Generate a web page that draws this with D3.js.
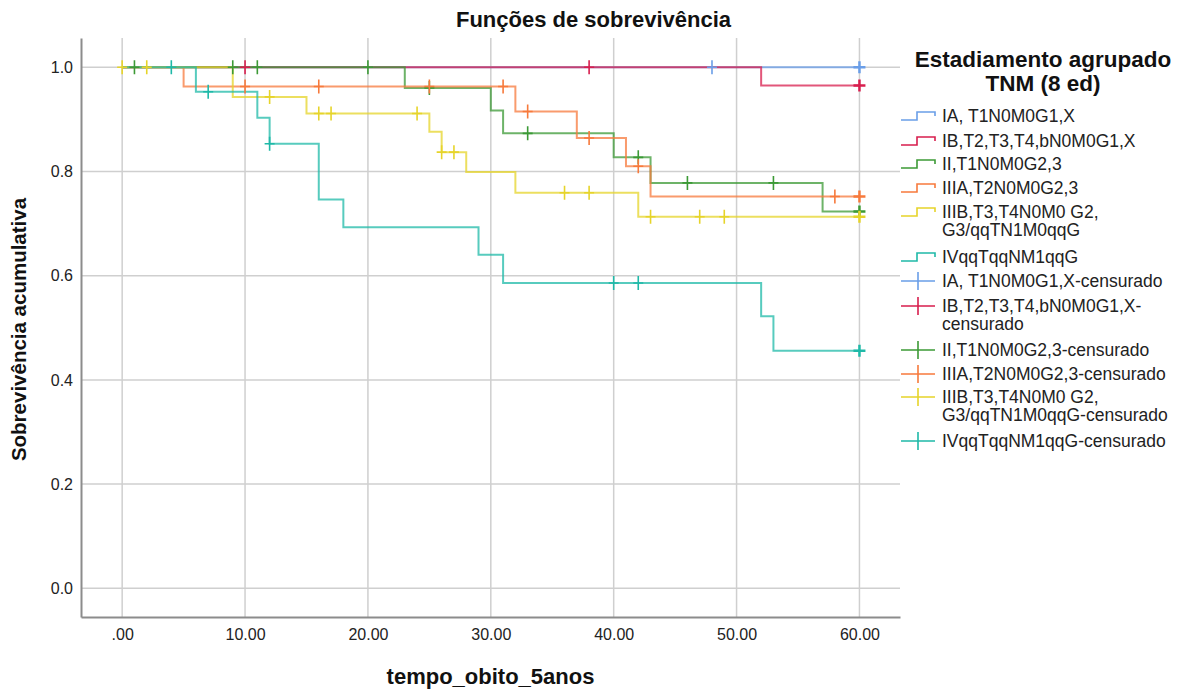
<!DOCTYPE html>
<html lang="pt">
<head>
<meta charset="UTF-8">
<title>Funções de sobrevivência</title>
<script src="https://cdn.jsdelivr.net/npm/d3@7"></script>
<style>
    body { margin: 0; background: #fff; font-family: "Liberation Sans", Arial, sans-serif; }
</style>
</head>
<body>
<script>
    // groups (legend order)
    const groupNames = ["IA, T1N0M0G1,X", "IB,T2,T3,T4,bN0M0G1,X", "II,T1N0M0G2,3",
        "IIIA,T2N0M0G2,3", "IIIB,T3,T4N0M0 G2,\nG3/qqTN1M0qqG", "IVqqTqqNM1qqG"]
    const groupColours = ["#6a9ee8", "#d81e4e", "#3c9a36", "#f77a3c", "#e6d42a", "#1fb9a8"]

    // event times and survival after each event, censored times
    const iaTimes = [], iaSurv = [], iaCens = [48, 60]
    const ibTimes = [52], ibSurv = [0.965], ibCens = [10, 38, 60]
    const iiTimes = [23, 30, 31, 40, 43, 57]
    const iiSurv = [0.96, 0.917, 0.873, 0.827, 0.778, 0.723]
    const iiCens = [1, 9, 11, 20, 25, 33, 42, 46, 53, 60]
    const iiiaTimes = [5, 32, 37, 41, 43]
    const iiiaSurv = [0.963, 0.915, 0.864, 0.81, 0.752]
    const iiiaCens = [10, 16, 25, 31, 33, 38, 42, 58, 60]
    const iiibTimes = [9, 15, 25, 26, 28, 32, 42]
    const iiibSurv = [0.943, 0.911, 0.876, 0.837, 0.799, 0.759, 0.713]
    const iiibCens = [0, 2, 12, 16, 17, 24, 26, 27, 36, 38, 43, 47, 49, 60]
    const ivTimes = [6, 11, 12, 16, 18, 29, 31, 52, 53]
    const ivSurv = [0.953, 0.903, 0.853, 0.746, 0.693, 0.64, 0.586, 0.522, 0.456]
    const ivCens = [4, 7, 12, 40, 42, 60]

    const xTicks = [0, 10, 20, 30, 40, 50, 60]
    const yTicks = [0, 0.2, 0.4, 0.6, 0.8, 1.0]
    const endTime = 60

    const series = [
        {times: iaTimes, surv: iaSurv, cens: iaCens},
        {times: ibTimes, surv: ibSurv, cens: ibCens},
        {times: iiTimes, surv: iiSurv, cens: iiCens},
        {times: iiiaTimes, surv: iiiaSurv, cens: iiiaCens},
        {times: iiibTimes, surv: iiibSurv, cens: iiibCens},
        {times: ivTimes, surv: ivSurv, cens: ivCens}
    ]

    const width = 1187, height = 691
    const plotL = 81, plotR = 900, plotT = 38, plotB = 617

    const svg = d3.select("body").append("svg").attr("width", width).attr("height", height)

    const x = d3.scaleLinear().domain([-3.35, 63.3]).range([plotL, plotR])
    const y = d3.scaleLinear().domain([-0.055, 1.056]).range([plotB, plotT])

    // grid
    svg.append("g").selectAll("line").data(xTicks).join("line")
        .attr("x1", d => x(d)).attr("x2", d => x(d)).attr("y1", plotT).attr("y2", plotB)
        .attr("stroke", "#cfcfcf").attr("stroke-width", 1.5)
    svg.append("g").selectAll("line").data(yTicks).join("line")
        .attr("x1", plotL).attr("x2", plotR).attr("y1", d => y(d)).attr("y2", d => y(d))
        .attr("stroke", "#cfcfcf").attr("stroke-width", 1.5)

    // axes
    const tickFont = "'Liberation Sans Narrow', 'Liberation Sans', Arial"
    const xAxis = d3.axisBottom(x).tickValues(xTicks).tickSize(0).tickPadding(12)
        .tickFormat(d => d === 0 ? ".00" : d3.format(".2f")(d))
    svg.append("g").attr("transform", `translate(0,${plotB})`).call(xAxis)
        .call(g => g.select(".domain").attr("stroke", "#8c8c8c").attr("stroke-width", 2))
        .call(g => g.selectAll("text").attr("font-size", 16).attr("fill", "#222").attr("font-family", tickFont))
    const yAxis = d3.axisLeft(y).tickValues(yTicks).tickSize(0).tickPadding(8)
        .tickFormat(d3.format(".1f"))
    svg.append("g").attr("transform", `translate(${plotL},0)`).call(yAxis)
        .call(g => g.select(".domain").attr("stroke", "#8c8c8c").attr("stroke-width", 2))
        .call(g => g.selectAll("text").attr("font-size", 16).attr("fill", "#222").attr("font-family", tickFont))

    // step curves
    const line = d3.line().x(d => x(d[0])).y(d => y(d[1])).curve(d3.curveStepAfter)
    function survAt(s, t) {
        let v = 1
        s.times.forEach((tt, i) => { if (tt <= t) v = s.surv[i] })
        return v
    }
    series.forEach((s, i) => {
        const pts = [[0, 1]]
        s.times.forEach((t, j) => pts.push([t, s.surv[j]]))
        pts.push([endTime, survAt(s, endTime)])
        svg.append("path").datum(pts).attr("d", line)
            .attr("fill", "none").attr("stroke", groupColours[i])
            .attr("stroke-width", 2).attr("stroke-opacity", 0.75)
    })
    // censor marks
    series.forEach((s, i) => {
        svg.append("g").selectAll("path").data(s.cens).join("path")
            .attr("d", t => {
                const cx = x(t), cy = y(survAt(s, t))
                const w = t === endTime ? 6 : 5, h = t === endTime ? 6 : 7
                return `M${cx - w},${cy}H${cx + w}M${cx},${cy - h}V${cy + h}`
            })
            .attr("fill", "none").attr("stroke", groupColours[i])
            .attr("stroke-width", t => t === endTime ? 2.5 : 1.6)
    })

    // titles
    svg.append("text").attr("x", width / 2).attr("y", 27).attr("text-anchor", "middle")
        .attr("font-size", 22).attr("font-weight", "bold").attr("fill", "#111").text("Funções de sobrevivência")
    svg.append("text").attr("x", (plotL + plotR) / 2).attr("y", 684).attr("text-anchor", "middle")
        .attr("font-size", 22).attr("font-weight", "bold").attr("fill", "#111").text("tempo_obito_5anos")
    svg.append("text").attr("transform", `translate(26,${(plotT + plotB) / 2 + 2}) rotate(-90)`)
        .attr("text-anchor", "middle").attr("font-size", 20.5).attr("font-weight", "bold")
        .attr("fill", "#111").text("Sobrevivência acumulativa")

    // legend
    const legend = svg.append("g").attr("transform", "translate(900,0)")
    legend.append("text").attr("x", 143).attr("y", 67).attr("text-anchor", "middle")
        .attr("font-size", 22.5).attr("font-weight", "bold").attr("fill", "#111")
        .selectAll("tspan").data(["Estadiamento agrupado", "TNM (8 ed)"]).join("tspan")
        .attr("x", 143).attr("dy", (d, i) => i ? 24 : 0).text(d => d)

    const lineRowsY = [116, 141, 164, 188, 212, 257]
    const censRowsY = [281, 306, 350, 374, 397, 441]
    const censNames = groupNames.map(n => n + "-censurado")
    censNames[1] = "IB,T2,T3,T4,bN0M0G1,X-\ncensurado"

    function legendText(yy, label) {
        legend.append("text").attr("x", 42).attr("y", yy + 6).attr("font-size", 17.5).attr("fill", "#222")
            .selectAll("tspan").data(label.split("\n")).join("tspan")
            .attr("x", 42).attr("dy", (d, i) => i ? 18 : 0).text(d => d)
    }
    groupNames.forEach((n, i) => {
        const yy = lineRowsY[i]
        legend.append("path").attr("d", `M1,${yy + 4}H17V${yy - 4}H35V${yy}`)
            .attr("fill", "none").attr("stroke", groupColours[i]).attr("stroke-width", 1.6)
        legendText(yy, n)
    })
    censNames.forEach((n, i) => {
        const yy = censRowsY[i]
        legend.append("path").attr("d", `M1,${yy}H35M18,${yy - 9}V${yy + 9}`)
            .attr("fill", "none").attr("stroke", groupColours[i]).attr("stroke-width", 1.6)
        legendText(yy, n)
    })
</script>
</body>
</html>
